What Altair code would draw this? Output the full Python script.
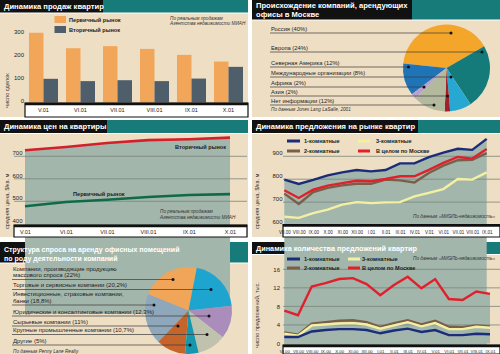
import math
import altair as alt
import pandas as pd

FONT = "Liberation Sans"
INK = "#1c1c1c"
BEIGE = "#EEDEC3"
TEAL = "#177B79"
BLACK = "#111111"
AREA = "#A3B6AC"
GRID = "#7A857B"

# ---------------- data ----------------
# Panel 1: sales
sales_months = ["V.01", "VI.01", "VII.01", "VIII.01", "IX.01", "X.01"]
sales_primary = [303, 236, 245, 233, 207, 178]
sales_secondary = [103, 93, 97, 93, 104, 155]
sales_series = ["Первичный рынок", "Вторичный рынок"]
sales_colors = ["#F2A65A", "#4E5E6B"]

# Panel 2: origin of companies
origin_labels = ["Россия (40%)", "Европа (24%)", "Северная Америка (12%)",
                 "Международные организации (8%)", "Африка (2%)", "Азия (2%)",
                 "Нет информации (12%)"]
origin_share = [40, 24, 12, 8, 2, 2, 12]
origin_colors = ["#F4A62A", "#147A7A", "#1F74B7", "#27A8D2", "#B9A0CF", "#A3202A", "#B2B99D"]
origin_pie_order = [6, 0, 5, 1, 4, 2, 3]

# Panel 3: prices
price_months = ["V.01", "VI.01", "VII.01", "VIII.01", "IX.01", "X.01"]
price_secondary = [727, 741, 759, 772, 776, 783]
price_primary = [478, 497, 507, 519, 528, 532]

# Panel 4: supply prices
supply_months = ["VII.00", "VIII.00", "IX.00", "X.00", "XI.00", "XII.00", "I.01", "II.01",
                 "III.01", "IV.01", "V.01", "VI.01", "VII.01", "VIII.01", "IX.01"]
supply_1room = [798, 779, 797, 817, 830, 840, 834, 840, 869, 869, 896, 916, 933, 928, 976]
supply_total = [752, 718, 754, 772, 783, 793, 791, 801, 813, 813, 841, 871, 897, 890, 932]
supply_2room = [737, 692, 744, 762, 773, 780, 780, 798, 795, 786, 827, 859, 883, 885, 914]
supply_3room = [636, 631, 652, 667, 689, 700, 696, 699, 700, 725, 740, 757, 801, 798, 830]

# Panel 5: demand structure
demand_labels = ["Компании, производящие продукцию\nмассового спроса (22%)",
                 "Торговые и сервисные компании (20,2%)",
                 "Инвестиционные, страховые компании,\nбанки (18,8%)",
                 "Юридические и консалтинговые компании (12,3%)",
                 "Сырьевые компании (11%)",
                 "Крупные промышленные компании (10,7%)",
                 "Другие (5%)"]
demand_share = [22, 20.2, 18.8, 12.3, 11, 10.7, 5]
demand_colors = ["#F0A558", "#1EA5CF", "#8FA7BB", "#AA8DBA", "#C6652B", "#BFC2AC", "#1597AE"]
demand_pie_order = [6, 0, 5, 1, 4, 2, 3]

# Panel 6: number of offers
count_months = ["VI.00", "VII.00", "VIII.00", "IX.00", "X.00", "XI.00", "XII.00", "I.01",
                "II.01", "III.01", "IV.01", "V.01", "VI.01", "VII.01", "VIII.01", "IX.01"]
count_total = [7.1, 6.1, 12.3, 13.0, 13.9, 14.1, 12.8, 10.4, 12.6, 14.4, 11.9, 13.9, 9.6, 9.4, 11.2, 10.7]
count_2room = [2.4, 1.9, 4.3, 4.6, 4.9, 5.0, 4.6, 3.6, 4.4, 5.0, 4.1, 4.9, 3.6, 3.5, 3.9, 3.7]
count_3room = [2.1, 1.7, 3.9, 4.1, 4.3, 4.4, 4.1, 3.2, 3.9, 4.6, 3.7, 4.4, 3.1, 3.1, 3.6, 3.4]
count_1room = [1.4, 1.4, 2.6, 2.9, 3.1, 3.1, 2.9, 2.2, 2.8, 3.2, 2.5, 2.9, 1.8, 1.8, 2.1, 2.0]

SERIES_COLORS = {"1-комнатные": "#1B2C7A", "2-комнатные": "#7B5E48",
                 "3-комнатные": "#F4F0A2", "В целом по Москве": "#E0202C"}

# ---------------- helpers ----------------
def X_id(f="x"):
    return alt.X(f"{f}:Q", scale=None, axis=None)


def Y_id(f="y"):
    return alt.Y(f"{f}:Q", scale=None, axis=None)


def rects(rows, **mark):
    df = pd.DataFrame(rows, columns=["x", "y", "x2", "y2", "c"])
    return alt.Chart(df).mark_rect(**mark).encode(
        x=X_id(), x2="x2:Q", y=Y_id(), y2="y2:Q", fill=alt.Fill("c:N", scale=None))


def rules(rows, width):
    df = pd.DataFrame(rows, columns=["x", "x2", "y", "c"])
    return alt.Chart(df).mark_rule(strokeWidth=width).encode(
        x=X_id(), x2="x2:Q", y=Y_id(), color=alt.Color("c:N", scale=None))


def texts(rows, size, weight="normal", style="normal", color=INK, angle=0,
          baseline="middle", line_height=None):
    df = pd.DataFrame(rows, columns=["x", "y", "t"])
    kw = dict(align="left", baseline=baseline, font=FONT, fontSize=size,
              fontWeight=weight, fontStyle=style, color=color, angle=angle)
    if line_height:
        kw.update(lineBreak="\n", lineHeight=line_height)
    return alt.Chart(df).mark_text(**kw).encode(x=X_id(), y=Y_id(), text="t:N")


def yaxis(offset, values, label_offset=0, size=6, pad=1.5):
    return alt.Axis(orient="left", offset=offset, values=values, labelOffset=label_offset,
                    labelPadding=pad, labelFont=FONT, labelFontSize=size, labelColor=INK,
                    domain=False, ticks=False, grid=False, title=None, zindex=1)


def xaxis(y_pos, size, pad=1):
    return alt.Axis(orient="bottom", offset=y_pos - 354, labelPadding=pad, labelFont=FONT,
                    labelFontSize=size, labelColor=INK, labelAngle=0, labelOverlap=False,
                    labelFlush=False, domain=False, ticks=False, grid=False, title=None, zindex=1)


layers = []

# ---------------- backgrounds & title bars ----------------
layers.append(rects([
    (0, 0, 500, 354, "#FFFFFF"),
    (0, 0, 103, 12.5, BLACK), (103, 0, 248, 12.5, TEAL), (0, 13.5, 248, 117, BEIGE),
    (252, 0, 412, 19.5, BLACK), (412, 0, 500, 19.5, TEAL), (252, 20.5, 500, 117, BEIGE),
    (0, 120, 107, 133, BLACK), (107, 120, 248, 133, TEAL), (0, 134, 248, 237, BEIGE),
    (252, 120, 418, 133, BLACK), (418, 120, 500, 133, TEAL), (252, 134, 500, 237, BEIGE),
    (0, 242, 183, 262.5, BLACK), (183, 242, 248, 262.5, TEAL), (0, 263.5, 248, 354, BEIGE),
    (252, 242, 423, 254, BLACK), (423, 242, 500, 254, TEAL), (252, 255, 500, 354, BEIGE),
]))

# ---------------- Panel 1: bars ----------------
p1 = pd.DataFrame({
    "m": sales_months * 2,
    "s": [sales_series[0]] * 6 + [sales_series[1]] * 6,
    "v": sales_primary + sales_secondary,
})
p1_y = alt.Scale(domain=[0, 300], range=[102.5, 33.5], nice=False)
layers.append(alt.Chart(p1).mark_bar().encode(
    x=alt.X("m:N", sort=sales_months,
            scale=alt.Scale(domain=sales_months, range=[25, 247], paddingInner=0.216, paddingOuter=0.108),
            axis=xaxis(106, 5.5, pad=1)),
    xOffset=alt.XOffset("s:N", sort=sales_series, scale=alt.Scale(domain=sales_series, paddingInner=0)),
    y=alt.Y("v:Q", scale=p1_y, axis=yaxis(-25, [0, 100, 200, 300], -2.5, 6, 1.5)),
    color=alt.Color("s:N", scale=alt.Scale(domain=sales_series, range=sales_colors), legend=None),
))

# ---------------- Panel 3: prices ----------------
p3_x = alt.Scale(type="point", domain=price_months, range=[25, 230], padding=0)
p3_y = alt.Scale(domain=[400, 700], range=[223.8, 156.3], nice=False, zero=False)
p3 = pd.DataFrame({"m": price_months, "sec": price_secondary, "pri": price_primary})
layers.append(alt.Chart(p3).mark_area(color=AREA).encode(
    x=alt.X("m:N", sort=price_months, scale=p3_x, axis=xaxis(228.5, 5.5)),
    y=alt.Y("sec:Q", scale=p3_y, axis=yaxis(-23.5, [400, 500, 600, 700], -3.5)),
    y2=alt.value(225)))
layers.append(alt.Chart(pd.DataFrame({"v": [500, 600, 700]})).mark_rule(color=GRID, strokeWidth=0.8).encode(
    y=alt.Y("v:Q", scale=p3_y, axis=None), x=alt.value(14), x2=alt.value(247)))
layers.append(alt.Chart(p3).mark_line(color="#D3202A", strokeWidth=2.6).encode(
    x=alt.X("m:N", sort=price_months, scale=p3_x, axis=None),
    y=alt.Y("sec:Q", scale=p3_y, axis=None)))
layers.append(alt.Chart(p3).mark_line(color="#0F6A4A", strokeWidth=2.6).encode(
    x=alt.X("m:N", sort=price_months, scale=p3_x, axis=None),
    y=alt.Y("pri:Q", scale=p3_y, axis=None)))

# ---------------- Panel 4: supply prices ----------------
p4_x = alt.Scale(type="point", domain=supply_months, range=[284.3, 486.7], padding=0)
p4_y = alt.Scale(domain=[600, 900], range=[225, 156.3], nice=False, zero=False)
p4 = pd.DataFrame({"m": supply_months, "r1": supply_1room, "r2": supply_2room,
                   "r3": supply_3room, "tot": supply_total})
layers.append(alt.Chart(p4).mark_area(color=AREA).encode(
    x=alt.X("m:N", sort=supply_months, scale=p4_x, axis=xaxis(228.5, 4.5)),
    y=alt.Y("r1:Q", scale=p4_y, axis=yaxis(-283.5, [600, 700, 800, 900], -4)),
    y2=alt.value(225)))
layers.append(alt.Chart(pd.DataFrame({"v": [700, 800, 900]})).mark_rule(color=GRID, strokeWidth=0.8).encode(
    y=alt.Y("v:Q", scale=p4_y, axis=None), x=alt.value(283), x2=alt.value(500)))
for col, name in [("r3", "3-комнатные"), ("r2", "2-комнатные"), ("tot", "В целом по Москве"), ("r1", "1-комнатные")]:
    layers.append(alt.Chart(p4).mark_line(color=SERIES_COLORS[name], strokeWidth=2.4).encode(
        x=alt.X("m:N", sort=supply_months, scale=p4_x, axis=None),
        y=alt.Y(f"{col}:Q", scale=p4_y, axis=None)))

# ---------------- Panel 6: number of offers ----------------
p6_x = alt.Scale(type="point", domain=count_months, range=[284.3, 490], padding=0)
p6_y = alt.Scale(domain=[0, 16], range=[343.5, 269.3], nice=False)
p6 = pd.DataFrame({"m": count_months, "r1": count_1room, "r2": count_2room,
                   "r3": count_3room, "tot": count_total})
layers.append(alt.Chart(p6).mark_area(color=AREA).encode(
    x=alt.X("m:N", sort=count_months, scale=p6_x, axis=xaxis(348.5, 4.3, pad=0.5)),
    y=alt.Y("tot:Q", scale=p6_y, axis=yaxis(-281.5, [0, 4, 8, 12, 16], 0, 6, 2)),
    y2=alt.value(345)))
layers.append(alt.Chart(pd.DataFrame({"v": [4, 8, 12, 16]})).mark_rule(color=GRID, strokeWidth=0.8).encode(
    y=alt.Y("v:Q", scale=p6_y, axis=None), x=alt.value(283), x2=alt.value(500)))
for col, name in [("r2", "2-комнатные"), ("r3", "3-комнатные"), ("r1", "1-комнатные"), ("tot", "В целом по Москве")]:
    layers.append(alt.Chart(p6).mark_line(color=SERIES_COLORS[name], strokeWidth=2.4).encode(
        x=alt.X("m:N", sort=count_months, scale=p6_x, axis=None),
        y=alt.Y(f"{col}:Q", scale=p6_y, axis=None)))

# ---------------- axis boxes ----------------
layers.append(rects([
    (25, 103, 248, 117, "#FFFFFF"), (14, 225, 247, 237, "#FFFFFF"),
    (283, 224.5, 500, 237, "#FFFFFF"), (283, 345, 500, 354, "#FFFFFF"),
], stroke=BLACK, strokeWidth=1.2))
layers.append(rules([
    (25, 248, 104, BLACK), (14, 247, 226, BLACK), (283, 500, 225.5, BLACK), (283, 500, 346, BLACK),
], 2.6))

# ---------------- pies ----------------
p2 = pd.DataFrame({"share": origin_share, "c": origin_colors, "o": origin_pie_order})
a2 = math.radians(60)
layers.append(alt.Chart(p2).mark_arc(outerRadius=43.5).encode(
    theta=alt.Theta("share:Q", stack=True, scale=alt.Scale(range=[a2, a2 + 2 * math.pi])),
    order=alt.Order("o:Q"), fill=alt.Fill("c:N", scale=None),
    x=alt.value(446.5), y=alt.value(68)))

p5 = pd.DataFrame({"share": demand_share, "c": demand_colors, "o": demand_pie_order})
a5 = math.radians(11)
layers.append(alt.Chart(p5).mark_arc(outerRadius=43.5).encode(
    theta=alt.Theta("share:Q", stack=True, scale=alt.Scale(range=[a5, a5 + 2 * math.pi])),
    order=alt.Order("o:Q"), fill=alt.Fill("c:N", scale=None),
    x=alt.value(188.5), y=alt.value(310.5)))

# leader lines & dots (annotation layout)
p2_rows = [33, 52, 67, 77, 87, 96, 105]
p2_dots = [451, 482, 408.5, 451, 424, 447.5, 434]
p5_rows = [279.5, 289.5, 305, 316, 326, 334.5, 345]
p5_dots = [173, 211, 154, 209, 178, 207, 190]
layers.append(rules([(270, dx, dy, "#3a3a3a") for dx, dy in zip(p2_dots, p2_rows)] +
                    [(12, dx, dy, "#3a3a3a") for dx, dy in zip(p5_dots, p5_rows)], 0.7))
dots = pd.DataFrame({"x": p2_dots + p5_dots, "y": p2_rows + p5_rows})
layers.append(alt.Chart(dots).mark_circle(size=9, color=BLACK, opacity=1).encode(x=X_id(), y=Y_id()))

# ---------------- legends / swatches ----------------
layers.append(rects([(54.5, 16, 66, 23, sales_colors[0]), (54.5, 26, 66, 33, sales_colors[1])]))
sw = []
for y1, y2, xb in [(141, 151, 358), (259, 268, 348)]:
    sw += [(287, 300, y1, SERIES_COLORS["1-комнатные"]), (xb, xb + 12, y1, SERIES_COLORS["3-комнатные"]),
           (287, 300, y2, SERIES_COLORS["2-комнатные"]), (xb, xb + 12, y2, SERIES_COLORS["В целом по Москве"])]
layers.append(rules(sw, 3))

# ---------------- texts ----------------
layers.append(texts([
    (4, 6.5, "Динамика продаж квартир"),
    (256, 6, "Происхождение компаний, арендующих"), (256, 15, "офисы в Москве"),
    (4, 127, "Динамика цен на квартиры"),
    (256, 127, "Динамика предложения на рынке квартир"),
], 7.6, weight="bold", color="#FFFFFF"))
layers.append(texts([
    (256, 248.5, "Динамика количества предложений квартир"),
], 7.3, weight="bold", color="#FFFFFF"))
layers.append(texts([
    (4, 249.5, "Структура спроса на аренду офисных помещений"), (4, 258.5, "по роду деятельности компаний"),
], 7.0, weight="bold", color="#FFFFFF"))

layers.append(texts([
    (69, 19.5, sales_series[0]), (69, 29.5, sales_series[1]),
    (175, 147, "Вторичный рынок"), (73, 194, "Первичный рынок"),
    (304, 141, "1-комнатные"), (376, 141, "3-комнатные"),
    (304, 151, "2-комнатные"), (376, 151, "В целом по Москве"),
    (304, 259, "1-комнатные"), (362, 259, "3-комнатные"),
    (304, 268, "2-комнатные"), (362, 268, "В целом по Москве"),
], 5.6, weight="bold"))

LH5 = 6.6
layers.append(texts([(271, y - 1.2, t) for t, y in zip(origin_labels, p2_rows)], 5.8, baseline="bottom"))
layers.append(texts([(13, y - 1.2 - LH5 * t.count("\n"), t) for t, y in zip(demand_labels, p5_rows)],
                    6, baseline="bottom", line_height=LH5))

layers.append(texts([
    (170, 19, "По реальным продажам"), (170, 24, "Агентства недвижимости МИАН"),
    (271, 109.5, "По данным Jones Lang LaSalle, 2001"),
    (160, 212, "По реальным продажам"), (160, 217.5, "Агентства недвижимости МИАН"),
    (413, 217, "По данным «МИЭЛЬ-недвижимость»"),
    (13, 352, "По данным Penny Lane Realty"),
    (413, 259, "По данным «МИЭЛЬ-недвижимость»"),
], 4.7, style="italic", color="#333333"))

layers.append(texts([
    (7, 108, "число сделок"),
    (7, 229, "средняя цена, $/кв. м"),
    (257, 229, "средняя цена, $/кв. м"),
    (257, 348, "число предложений, тыс."),
], 5.6, angle=270, color="#333333"))

chart = alt.layer(*layers).resolve_scale(
    x="independent", y="independent", color="independent", fill="independent",
    theta="independent", xOffset="independent",
).properties(
    width=500, height=354, autosize=alt.AutoSizeParams(type="none"), padding=0
).configure_view(stroke=None)

chart.save("out.html", embed_options={"renderer": "svg", "actions": False})
